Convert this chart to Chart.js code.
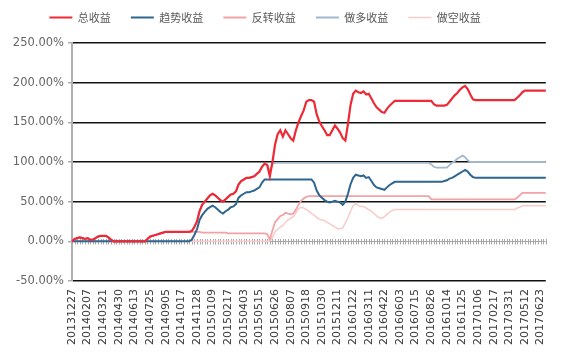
<!DOCTYPE html>
<html>
<head>
<meta charset="utf-8">
<script src="https://cdn.jsdelivr.net/npm/chart.js@4.4.1/dist/chart.umd.min.js"></script>
<style>
html,body{margin:0;padding:0;background:#fff;}
#c{display:block;}
</style>
</head>
<body>
<canvas id="c" width="567" height="354"></canvas>
<script>
const seriesNames = ['总收益', '趋势收益', '反转收益', '做多收益', '做空收益'];

const tickDates = ['20131227','20140207','20140321','20140430','20140613','20140725','20140905','20141017','20141128','20150109','20150217','20150403','20150515','20150626','20150807','20150918','20151030','20151211','20160122','20160311','20160422','20160603','20160715','20160826','20161014','20161125','20170106','20170217','20170331','20170512','20170623'];

const total = [
0,3,4,5,4,3,4,2,2,4,
6,7,7,7,5,2,0,0,0,0,
0,0,0,0,0,0,0,0,0,3,
6,7,8,9,10,11,12,12,12,12,
12,12,12,12,12,12,13,18,25,38,
46,50,54,58,60,58,55,52,50,53,
56,59,60,63,72,76,78,80,80,81,
82,85,88,94,98,96,82,100,122,135,
140,132,140,135,130,127,140,150,158,165,
176,178,178,176,160,151,145,140,134,134,
140,146,142,137,130,127,148,172,186,190,
188,187,189,185,186,180,174,169,166,163,
162,167,171,174,177,177,177,177,177,177,
177,177,177,177,177,177,177,177,177,173,
171,171,171,171,172,176,180,184,187,191,
194,196,192,185,179,178,178,178,178,178,
178,178,178,178,178,178,178,178,178,178,
178,181,184,188,190,190,190,190,190,190,
190,190,190];

const trend = [
0,0,0,0,0,0,0,0,0,0,
0,0,0,0,0,0,0,0,0,0,
0,0,0,0,0,0,0,0,0,0,
0,0,0,0,0,0,0,0,0,0,
0,0,0,0,0,0,2,8,15,27,
33,37,41,43,45,43,40,37,35,38,
40,43,44,47,55,58,60,62,62,63,
64,66,68,74,78,78,78,78,78,78,
78,78,78,78,78,78,78,78,78,78,
78,78,78,74,64,58,55,52,50,49,
50,51,50,49,46,50,60,72,80,84,
83,82,83,80,81,76,71,68,67,66,
65,68,71,73,75,75,75,75,75,75,
75,75,75,75,75,75,75,75,75,75,
75,75,75,76,77,79,80,82,84,86,
88,90,88,84,81,80,80,80,80,80,
80,80,80,80,80,80,80,80,80,80,
80,80,80,80,80,80,80,80,80,80,
80,80,80];

const reversal = [
0,3,4,5,4,3,4,2,2,4,
6,7,7,7,5,2,0,0,0,0,
0,0,0,0,0,0,0,0,0,3,
6,7,8,9,10,11,12,12,12,12,
12,12,12,12,12,12,12,12,12,12,
11,11,11,11,11,11,11,11,11,11,
10,10,10,10,10,10,10,10,10,10,
10,10,10,10,10,9,2,14,24,28,
32,33,36,35,34,35,40,46,51,54,
56,57,57,57,57,57,57,57,57,57,
57,57,57,57,57,57,57,57,57,57,
57,57,57,57,57,57,57,57,57,57,
57,57,57,57,57,57,57,57,57,57,
57,57,57,57,57,57,57,57,53,53,
53,53,53,53,53,53,53,53,53,53,
53,53,53,53,53,53,53,53,53,53,
53,53,53,53,53,53,53,53,53,53,
53,55,58,61,61,61,61,61,61,61,
61,61,61];

const longSide = [
0,3,4,5,4,3,4,2,2,4,
6,7,7,7,5,2,0,0,0,0,
0,0,0,0,0,0,0,0,0,3,
6,7,8,9,10,11,12,12,12,12,
12,12,12,12,12,12,13,18,25,38,
46,50,54,58,60,58,55,52,50,53,
56,59,60,63,72,76,78,80,80,81,
82,85,88,94,98,97,88,98,99,99,
99,99,99,99,99,99,99,99,99,99,
99,99,99,99,99,99,99,99,99,99,
99,99,99,99,99,99,99,99,99,99,
99,99,99,99,99,99,99,99,99,99,
99,99,99,99,99,99,99,99,99,99,
99,99,99,99,99,99,99,99,97,94,
93,93,93,93,93,96,99,101,104,106,
108,106,102,100,100,100,100,100,100,100,
100,100,100,100,100,100,100,100,100,100,
100,100,100,100,100,100,100,100,100,100,
100,100,100];

const shortSide = [
0,0,0,0,0,0,0,0,0,0,
0,0,0,0,0,0,0,0,0,0,
0,0,0,0,0,0,0,0,0,0,
0,0,0,0,0,0,0,0,0,0,
0,0,0,0,0,0,0,0,0,0,
0,0,0,0,0,0,0,0,0,0,
0,0,0,0,0,0,0,0,0,0,
0,0,0,0,0,0,0,5,12,15,
18,20,24,27,29,31,36,41,43,42,
40,38,35,33,30,28,27,26,24,22,
20,18,16,16,17,23,30,38,45,48,
45,44,44,42,40,38,35,32,30,29,
31,34,37,39,40,40,40,40,40,40,
40,40,40,40,40,40,40,40,40,40,
40,40,40,40,40,40,40,40,40,40,
40,40,40,40,40,40,40,40,40,40,
40,40,40,40,40,40,40,40,40,40,
40,42,43,45,45,45,45,45,45,45,
45,45,45];

const yTicks = [-50, 0, 50, 100, 150, 200, 250];

const weeks = total.map((_, i) => i);

const zeroAxis = {
  id: 'zeroAxis',
  beforeDatasetsDraw(chart) {
    const {ctx, scales: {x, y}} = chart;
    const y0 = Math.round(y.getPixelForValue(0)) + 0.5;
    ctx.save();
    ctx.strokeStyle = '#a8a8a8';
    ctx.lineWidth = 1;
    ctx.beginPath();
    ctx.moveTo(x.left, y0);
    ctx.lineTo(x.right, y0);
    ctx.stroke();
    ctx.beginPath();
    for (let i = 0; i < weeks.length; i++) {
      const px = Math.round(x.getPixelForValue(i)) + 0.5;
      ctx.moveTo(px, y0 - 2.5);
      ctx.lineTo(px, y0 + 3);
    }
    ctx.stroke();
    ctx.restore();
  }
};

const mk = (label, data, color, width) => ({
  label, data, borderColor: color, backgroundColor: color,
  borderWidth: width, pointRadius: 0, tension: 0, fill: false
});

new Chart(document.getElementById('c'), {
  type: 'line',
  data: {
    labels: weeks,
    datasets: [
      mk(seriesNames[0], total, '#ee2a36', 2.2),
      mk(seriesNames[1], trend, '#2f6690', 2),
      mk(seriesNames[2], reversal, '#f3a2a5', 1.8),
      mk(seriesNames[3], longSide, '#a4b8cc', 1.8),
      mk(seriesNames[4], shortSide, '#f8caca', 1.5)
    ]
  },
  options: {
    responsive: false,
    animation: false,
    devicePixelRatio: 1,
    layout: {padding: {top: -8, right: 6.8, bottom: 0, left: -30}},
    plugins: {
      tooltip: {enabled: false},
      legend: {
        position: 'top',
        labels: {
          usePointStyle: true,
          pointStyle: 'line',
          pointStyleWidth: 23,
          boxHeight: 11,
          padding: 20,
          color: '#595959',
          font: {family: "'Noto Sans CJK SC', sans-serif", size: 11}
        }
      },
      subtitle: {
        display: true,
        text: '',
        weight: 500,
        padding: 0,
        font: {size: 10, lineHeight: 1}
      }
    },
    scales: {
      x: {
        type: 'category',
        offset: false,
        grid: {display: false, drawTicks: false},
        border: {display: false},
        ticks: {
          autoSkip: false,
          minRotation: 90,
          maxRotation: 90,
          padding: 8,
          color: '#3a3a3a',
          font: {family: "'DejaVu Sans',sans-serif", size: 11},
          callback: (v, i) => (i % 6 === 0 && tickDates[i / 6]) ? tickDates[i / 6] : ''
        },
        afterFit: s => { s.height = 73; }
      },
      y: {
        min: yTicks[0],
        max: yTicks[yTicks.length - 1],
        afterBuildTicks: s => { s.ticks = yTicks.map(v => ({value: v})); },
        grid: {
          color: c => (c.tick && c.tick.value === 0) ? 'rgba(0,0,0,0)' : '#111',
          lineWidth: 1.4,
          borderDash: [8, 3, 2, 3],
          tickColor: '#a8a8a8',
          tickBorderDash: [],
          tickLength: 4
        },
        border: {display: true, color: '#b0b0b0', width: 2},
        ticks: {
          padding: 4,
          color: '#666',
          font: {family: "'DejaVu Sans',sans-serif", size: 11.5},
          callback: v => v.toFixed(2) + '%'
        },
        afterFit: s => { s.width = 102; }
      }
    }
  },
  plugins: [zeroAxis]
});
</script>
</body>
</html>
